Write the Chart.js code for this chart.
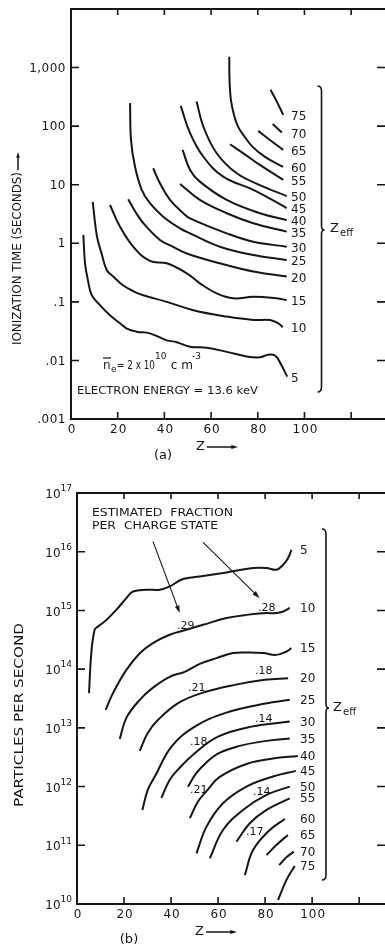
<!DOCTYPE html>
<html>
<head>
<meta charset="utf-8">
<script src="https://cdn.jsdelivr.net/npm/chart.js@4.4.1/dist/chart.umd.min.js"></script>
<style>
html, body { margin: 0; padding: 0; background: #fff; }
#wrap { position: relative; width: 385px; height: 948px; overflow: hidden; }
canvas { position: absolute; left: 0; }
#timeChart { top: 0; }
#rateChart { top: 470px; }
</style>
</head>
<body>
<div id="wrap">
  <canvas id="timeChart" width="385" height="470"></canvas>
  <canvas id="rateChart" width="385" height="478"></canvas>
</div>
<script>
// ---- (a) ionization time (s) vs Z, one curve per Zeff ----
var timeZ5  = [5.3, 6.0, 7.2, 8.9, 12.4, 16.7, 21.0, 23.9, 28.1, 33.8, 41.0, 45.3, 51.0, 58.1, 66.7, 75.2, 80.9, 84.5, 87.5, 90.0, 92.6];
var time5   = [1.39, 0.46, 0.24, 0.13, 0.088, 0.059, 0.043, 0.035, 0.031, 0.029, 0.022, 0.0205, 0.0171, 0.0165, 0.014, 0.0117, 0.0113, 0.0125, 0.012, 0.0085, 0.0053];
var timeZ10 = [9.3, 11.1, 13.1, 15.3, 18.1, 22.4, 27.0, 31.0, 41.0, 52.4, 66.7, 78.1, 85.2, 88.8, 90.7];
var time10  = [5.1, 1.33, 0.67, 0.35, 0.27, 0.19, 0.15, 0.13, 0.10, 0.072, 0.056, 0.049, 0.049, 0.043, 0.037];
var timeZ15 = [16.7, 21.0, 26.7, 33.8, 41.0, 49.6, 55.2, 62.4, 69.5, 78.1, 88.1, 92.4];
var time15  = [4.5, 1.92, 0.87, 0.50, 0.455, 0.307, 0.207, 0.14, 0.115, 0.122, 0.115, 0.107];
var timeZ20 = [24.5, 27.5, 31.0, 38.1, 43.0, 49.6, 63.8, 78.1, 92.4];
var time20  = [5.65, 3.5, 2.2, 1.14, 0.9, 0.67, 0.455, 0.33, 0.27];
var timeZ25 = [25.3, 25.7, 27.4, 30.3, 33.8, 39.5, 46.7, 51.0, 63.8, 78.1, 92.4];
var time25  = [247, 58, 20.4, 8.15, 4.83, 2.85, 1.8, 1.48, 0.875, 0.63, 0.52];
var timeZ30 = [35.2, 38.1, 42.4, 48.1, 51.0, 66.7, 78.1, 92.4];
var time30  = [19.1, 10.6, 5.5, 3.26, 2.67, 1.48, 1.06, 0.875];
var timeZ35 = [46.7, 55.2, 66.7, 78.1, 92.4];
var time35  = [10.3, 5.5, 3.26, 2.2, 1.58];
var timeZ40 = [47.8, 51.0, 55.2, 66.7, 80.9, 92.4];
var time40  = [39.4, 17.9, 11.3, 5.5, 3.26, 2.5];
var timeZ45 = [47.0, 51.0, 56.7, 65.2, 78.1, 92.4];
var time45  = [222, 76, 30, 13.7, 8.15, 4.0];
var timeZ50 = [53.8, 56.7, 62.4, 71.0, 82.4, 92.4];
var time50  = [263, 98, 34.5, 15.7, 9.3, 6.4];
var timeZ55 = [68.1, 74.9, 80.9, 90.9];
var time55  = [49, 32, 21.8, 12.1];
var timeZ60 = [67.8, 67.9, 68.5, 69.8, 71.6, 74.4, 77.8, 83.1, 90.8];
var time60  = [1530, 617, 282, 156, 97, 65.6, 44.3, 29.9, 20.1];
var timeZ65 = [80.2, 85.2, 90.9];
var time65  = [83, 58, 39.4];
var timeZ70 = [86.4, 90.3];
var time70  = [109, 78];
var timeZ75 = [85.5, 88.2, 90.9];
var time75  = [417, 260, 156];

// ---- (b) particles per second vs Z ----
var rateZ5  = [5.1, 6.1, 7.5, 8.9, 12.5, 16.8, 21.0, 23.8, 29.5, 35.2, 39.4, 45.1, 52.2, 63.6, 74.9, 80.6, 84.8, 87.7, 89.8, 91.2];
var rate5   = [3.9e13, 1.9e14, 4.7e14, 5.3e14, 6.9e14, 1.03e15, 1.62e15, 2.1e15, 2.25e15, 2.25e15, 2.56e15, 3.42e15, 3.79e15, 4.44e15, 5.27e15, 5.27e15, 4.93e15, 6.0e15, 7.8e15, 1.08e16];
var rateZ10 = [12.2, 15.3, 21.0, 26.7, 32.3, 39.4, 46.5, 53.6, 63.6, 72.1, 80.6, 84.8, 87.7, 90.5];
var rate10  = [2.03e13, 3.9e13, 9.7e13, 1.87e14, 2.77e14, 3.85e14, 4.68e14, 5.69e14, 7.41e14, 8.4e14, 9.0e14, 9.0e14, 9.6e14, 1.1e15];
var rateZ15 = [18.2, 21.0, 26.7, 32.2, 39.4, 45.8, 52.2, 59.3, 66.4, 73.5, 79.1, 84.8, 89.1, 91.2];
var rate15  = [6.5e12, 1.48e13, 3.0e13, 4.8e13, 7.4e13, 9.0e13, 1.23e14, 1.54e14, 1.88e14, 1.92e14, 1.88e14, 1.75e14, 2.0e14, 2.28e14];
var rateZ20 = [26.7, 30.1, 34.5, 43.0, 52.9, 67.1, 79.9, 89.8];
var rate20  = [4.06e12, 8.2e12, 1.37e13, 2.64e13, 3.9e13, 5.4e13, 6.6e13, 7.0e13];
var rateZ25 = [27.8, 30.1, 33.1, 40.2, 50.1, 62.9, 77.0, 90.5];
var rate25  = [4.0e11, 8.8e11, 1.48e12, 4.8e12, 1.05e13, 1.78e13, 2.46e13, 3.0e13];
var rateZ30 = [35.9, 39.4, 42.8, 50.1, 60.0, 74.2, 90.5];
var rate30  = [6.4e11, 1.3e12, 1.92e12, 3.7e12, 7.1e12, 1.05e13, 1.28e13];
var rateZ35 = [47.2, 50.5, 54.8, 60.6, 69.2, 77.7, 90.5];
var rate35  = [9.9e11, 1.64e12, 2.53e12, 3.75e12, 4.93e12, 5.77e12, 6.6e12];
var rateZ40 = [48.0, 51.4, 54.8, 60.7, 72.1, 83.3, 93.9];
var rate40  = [2.9e11, 5.5e11, 8.1e11, 1.46e12, 2.43e12, 3.0e12, 3.33e12];
var rateZ45 = [50.8, 55.1, 62.1, 72.1, 83.4, 93.1];
var rate45  = [7.3e10, 2.08e11, 5.2e11, 1.0e12, 1.48e12, 1.85e12];
var rateZ50 = [56.5, 62.1, 70.6, 80.6, 90.5];
var rate50  = [6.0e10, 1.82e11, 4.0e11, 7.2e11, 1.0e12];
var rateZ55 = [67.8, 73.5, 80.6, 90.5];
var rate55  = [1.15e11, 2.37e11, 4.0e11, 6.3e11];
var rateZ60 = [71.4, 74.9, 82.0, 88.4];
var rate60  = [3.1e10, 8.3e10, 1.82e11, 2.8e11];
var rateZ65 = [80.6, 84.8, 89.7];
var rate65  = [6.8e10, 1.01e11, 1.5e11];
var rateZ70 = [86.0, 88.8, 92.2];
var rate70  = [4.6e10, 6.1e10, 7.8e10];
var rateZ75 = [85.5, 89.1, 92.6];
var rate75  = [1.17e10, 2.57e10, 4.45e10];

// estimated fraction per charge state, written next to curves in (b)
var fracText = ['.29', '.28', '.21', '.18', '.18', '.14', '.21', '.14', '.17'];
var fracZ    = [46.3, 80.7, 50.9, 79.4, 51.8, 79.4, 51.8, 78.6, 75.6];
var fracRate = [5.5e14, 1.1e15, 4.8e13, 9.1e13, 5.8e12, 1.42e13, 8.8e11, 8.1e11, 1.69e11];

// axes
var zTicks = [0, 20, 40, 60, 80, 100];
var zTickMarks = [20, 40, 60, 80, 100, 120];
var timeTicks = [0.001, 0.01, 0.1, 1, 10, 100, 1000];
var timeTickText = ['.001', '.01', '.1', '1', '10', '100', '1,000'];
var rateExps = [10, 11, 12, 13, 14, 15, 16, 17];

var timeCurves = [
  [5, timeZ5, time5], [10, timeZ10, time10], [15, timeZ15, time15], [20, timeZ20, time20],
  [25, timeZ25, time25], [30, timeZ30, time30], [35, timeZ35, time35], [40, timeZ40, time40],
  [45, timeZ45, time45], [50, timeZ50, time50], [55, timeZ55, time55], [60, timeZ60, time60],
  [65, timeZ65, time65], [70, timeZ70, time70], [75, timeZ75, time75]
];
var rateCurves = [
  [5, rateZ5, rate5], [10, rateZ10, rate10], [15, rateZ15, rate15], [20, rateZ20, rate20],
  [25, rateZ25, rate25], [30, rateZ30, rate30], [35, rateZ35, rate35], [40, rateZ40, rate40],
  [45, rateZ45, rate45], [50, rateZ50, rate50], [55, rateZ55, rate55], [60, rateZ60, rate60],
  [65, rateZ65, rate65], [70, rateZ70, rate70], [75, rateZ75, rate75]
];

var INK = '#161616';
var FONT = '"DejaVu Sans", "Liberation Sans", sans-serif';

function text(ctx, s, x, y, size, align, fitW) {
  ctx.font = size + 'px ' + FONT;
  ctx.textAlign = align || 'left';
  ctx.textBaseline = 'middle';
  ctx.fillStyle = INK;
  if (fitW) {
    var w = ctx.measureText(s).width;
    ctx.save();
    ctx.translate(x, y);
    ctx.scale(fitW / w, 1);
    ctx.fillText(s, 0, 0);
    ctx.restore();
  } else {
    ctx.fillText(s, x, y);
  }
}

function arrow(ctx, x1, y1, x2, y2, lw, head) {
  var ang = Math.atan2(y2 - y1, x2 - x1);
  ctx.save();
  ctx.strokeStyle = INK; ctx.fillStyle = INK; ctx.lineWidth = lw;
  ctx.beginPath(); ctx.moveTo(x1, y1);
  ctx.lineTo(x2 - Math.cos(ang) * head * 0.8, y2 - Math.sin(ang) * head * 0.8);
  ctx.stroke();
  ctx.beginPath();
  ctx.moveTo(x2, y2);
  ctx.lineTo(x2 - head * Math.cos(ang - 0.3), y2 - head * Math.sin(ang - 0.3));
  ctx.lineTo(x2 - head * Math.cos(ang + 0.3), y2 - head * Math.sin(ang + 0.3));
  ctx.closePath(); ctx.fill();
  ctx.restore();
}

function drawFrame(chart, yMarks) {
  var ctx = chart.ctx, a = chart.chartArea, xs = chart.scales.x, ys = chart.scales.y;
  ctx.save();
  ctx.strokeStyle = INK;
  ctx.lineWidth = 2;
  ctx.beginPath();
  ctx.moveTo(a.right + 2, a.top); ctx.lineTo(a.left, a.top);
  ctx.lineTo(a.left, a.bottom); ctx.lineTo(a.right + 2, a.bottom);
  ctx.stroke();
  ctx.lineWidth = 1.6;
  ctx.beginPath();
  zTickMarks.forEach(function (v) {
    var px = xs.getPixelForValue(v);
    ctx.moveTo(px, a.top); ctx.lineTo(px, a.top + 6);
    ctx.moveTo(px, a.bottom); ctx.lineTo(px, a.bottom - 7);
  });
  yMarks.forEach(function (v) {
    var py = ys.getPixelForValue(v);
    ctx.moveTo(a.left, py); ctx.lineTo(a.left + 8, py);
    ctx.moveTo(a.right, py); ctx.lineTo(a.right - 8, py);
  });
  ctx.stroke();
  ctx.restore();
}

function drawBrace(ctx, x, top, mid, bottom) {
  ctx.save();
  ctx.strokeStyle = INK; ctx.lineWidth = 1.6;
  ctx.beginPath();
  ctx.moveTo(x - 4, top); ctx.quadraticCurveTo(x, top, x, top + 5);
  ctx.lineTo(x, mid - 4); ctx.quadraticCurveTo(x, mid, x + 3, mid);
  ctx.quadraticCurveTo(x, mid, x, mid + 4);
  ctx.lineTo(x, bottom - 5); ctx.quadraticCurveTo(x, bottom, x - 4, bottom);
  ctx.stroke();
  ctx.restore();
}

function drawZeff(ctx, x, y) {
  text(ctx, 'Z', x, y, 13, 'left');
  text(ctx, 'eff', x + 10, y + 4, 10, 'left');
}

function drawYTitle(ctx, s, x, yBottom, len, arrowLen) {
  ctx.save();
  ctx.translate(x, yBottom);
  ctx.rotate(-Math.PI / 2);
  text(ctx, s, 0, 0, 13, 'left', len);
  if (arrowLen) arrow(ctx, len + 2, 0, len + arrowLen, 0, 1.5, 6);
  ctx.restore();
}

function zArrow(ctx, x, y) {
  text(ctx, 'Z', x, y, 13, 'left');
  arrow(ctx, x + 11, y, x + 42, y, 1.5, 7);
}

function curveLabels(chart, x, dy) {
  var ctx = chart.ctx;
  chart.data.datasets.forEach(function (ds, i) {
    var pts = chart.getDatasetMeta(i).data;
    var last = pts[pts.length - 1];
    text(ctx, String(ds.zeff), x, last.y + dy, 12, 'left');
  });
}

function decorateTime(chart) {
  var ctx = chart.ctx, a = chart.chartArea, xs = chart.scales.x, ys = chart.scales.y;
  drawFrame(chart, [0.01, 0.1, 1, 10, 100, 1000]);
  ctx.save();
  ctx.letterSpacing = '0.5px';
  timeTicks.forEach(function (v, i) {
    text(ctx, timeTickText[i], a.left - 5, ys.getPixelForValue(v) + 1, 12, 'right');
  });
  ctx.letterSpacing = '1px';
  zTicks.forEach(function (v) {
    text(ctx, String(v), xs.getPixelForValue(v) + 1, a.bottom + 11, 12, 'center');
  });
  ctx.restore();
  curveLabels(chart, 291, 2);
  drawBrace(ctx, 321.5, 86, 230, 392);
  drawZeff(ctx, 330, 229);
  drawYTitle(ctx, 'IONIZATION TIME (SECONDS)', 18, 345, 173, 20);
  zArrow(ctx, 196, 447);
  text(ctx, '(a)', 163, 456, 13, 'center');

  // electron density note
  var x = 103, y = 366;
  text(ctx, 'n', x, y, 12, 'left');
  ctx.save(); ctx.strokeStyle = INK; ctx.lineWidth = 1.2;
  ctx.beginPath(); ctx.moveTo(x, y - 8); ctx.lineTo(x + 8, y - 8); ctx.stroke(); ctx.restore();
  x += 8;
  text(ctx, 'e', x, y + 4, 9, 'left'); x += 6;
  text(ctx, '= 2 x 10', x, y, 12, 'left', 38); x += 38;
  text(ctx, '10', x, y - 9, 9, 'left'); x += 12;
  text(ctx, ' c m', x, y, 12, 'left', 26); x += 25;
  text(ctx, '-3', x, y - 9, 9, 'left');
  text(ctx, 'ELECTRON ENERGY = 13.6 keV', 77, 391, 11, 'left', 181);
}

function decorateRate(chart) {
  var ctx = chart.ctx, a = chart.chartArea, xs = chart.scales.x, ys = chart.scales.y;
  drawFrame(chart, [1e11, 1e12, 1e13, 1e14, 1e15, 1e16]);
  ctx.save();
  rateExps.forEach(function (e) {
    var py = ys.getPixelForValue(Math.pow(10, e)) + 2;
    ctx.font = '9px ' + FONT;
    var ew = ctx.measureText(String(e)).width;
    var right = a.left - 5;
    text(ctx, '10', right - ew, py, 12, 'right');
    text(ctx, String(e), right - ew, py - 6, 9, 'left');
  });
  ctx.letterSpacing = '1px';
  zTicks.forEach(function (v) {
    text(ctx, String(v), xs.getPixelForValue(v) + 1, a.bottom + 11, 12, 'center');
  });
  ctx.restore();
  curveLabels(chart, 300, 1);
  drawBrace(ctx, 326, 59, 238, 410);
  drawZeff(ctx, 333, 238);
  drawYTitle(ctx, 'PARTICLES PER SECOND', 20, 337, 184, 0);
  zArrow(ctx, 195, 462);
  text(ctx, '(b)', 129, 470, 13, 'center');

  text(ctx, 'ESTIMATED  FRACTION', 92, 43, 11, 'left', 141);
  text(ctx, 'PER  CHARGE STATE', 92, 56, 11, 'left', 126);
  fracText.forEach(function (s, i) {
    text(ctx, s, xs.getPixelForValue(fracZ[i]), ys.getPixelForValue(fracRate[i]), 11, 'center');
  });
  arrow(ctx, xs.getPixelForValue(32.3), ys.getPixelForValue(1.5e16),
        xs.getPixelForValue(43.7), ys.getPixelForValue(9.0e14), 1.1, 8);
  arrow(ctx, xs.getPixelForValue(53.6), ys.getPixelForValue(1.44e16),
        xs.getPixelForValue(77.7), ys.getPixelForValue(1.62e15), 1.1, 8);
}

function buildDatasets(curves) {
  return curves.map(function (c) {
    return {
      label: 'Zeff = ' + c[0],
      zeff: c[0],
      data: c[1].map(function (z, i) { return { x: z, y: c[2][i] }; }),
      borderColor: INK,
      borderWidth: 2,
      pointRadius: 0,
      fill: false,
      tension: 0.4
    };
  });
}

function makeChart(id, curves, xMax, yMin, yMax, pad, decorate) {
  return new Chart(document.getElementById(id), {
    type: 'line',
    data: { datasets: buildDatasets(curves) },
    options: {
      responsive: false,
      animation: false,
      devicePixelRatio: 1,
      layout: { padding: pad },
      plugins: { legend: { display: false }, tooltip: { enabled: false } },
      scales: {
        x: { type: 'linear', min: 0, max: xMax, display: false },
        y: { type: 'logarithmic', min: yMin, max: yMax, display: false }
      }
    },
    plugins: [{ id: id + 'Decor', afterDraw: decorate }]
  });
}

makeChart('timeChart', timeCurves, 134.5, 0.001, 10000,
  { left: 71, top: 9, right: 0, bottom: 51 }, decorateTime);
makeChart('rateChart', rateCurves, 131, 1e10, 1e17,
  { left: 77, top: 23, right: 0, bottom: 44 }, decorateRate);
</script>
</body>
</html>
